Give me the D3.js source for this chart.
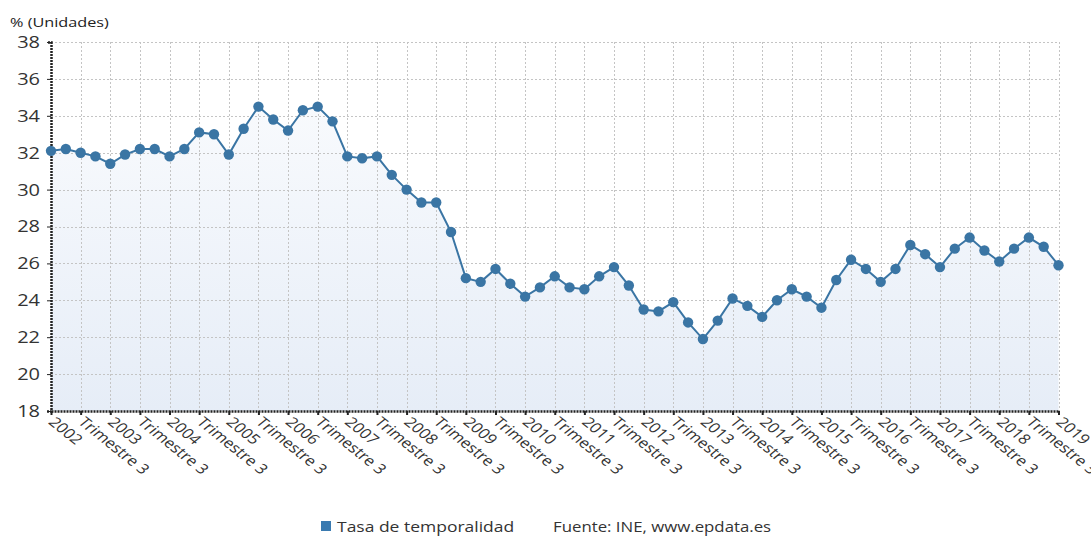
<!DOCTYPE html>
<html><head><meta charset="utf-8">
<script src="https://cdn.jsdelivr.net/npm/d3@7"></script>
<style>
body{margin:0;background:#fff;}
text{font-family:"Open Sans","Noto Sans",sans-serif;}
</style></head>
<body><svg id="c" width="1091" height="537"></svg>
<script>
const years = [2002,2003,2004,2005,2006,2007,2008,2009,2010,2011,2012,2013,2014,2015,2016,2017,2018,2019];
const values = [
  32.1,32.2,32.0,31.8, 31.4,31.9,32.2,32.2, 31.8,32.2,33.1,33.0, 31.9,33.3,34.5,33.8,
  33.2,34.3,34.5,33.7, 31.8,31.7,31.8,30.8, 30.0,29.3,29.3,27.7, 25.2,25.0,25.7,24.9,
  24.2,24.7,25.3,24.7, 24.6,25.3,25.8,24.8, 23.5,23.4,23.9,22.8, 21.9,22.9,24.1,23.7,
  23.1,24.0,24.6,24.2, 23.6,25.1,26.2,25.7, 25.0,25.7,27.0,26.5, 25.8,26.8,27.4,26.7,
  26.1,26.8,27.4,26.9, 25.9
];
const yTicks = [18,20,22,24,26,28,30,32,34,36,38];
const yTitle = "% (Unidades)";
const seriesName = "Tasa de temporalidad";
const source = "Fuente: INE, www.epdata.es";

const SX = 1.25; // horizontal text stretch seen in the reference
const svg = d3.select("#c");
const L = 51, R = 1058.5, T = 42, B = 411;
const x = d3.scaleLinear().domain([0, values.length - 1]).range([L, R]);
const y = d3.scaleLinear().domain([18, 38]).range([B, T]);

const tickIdx = d3.range(0, values.length, 2);
const tickLabel = i => (i % 4 === 0) ? String(years[i / 4]) : "Trimestre 3";

const defs = svg.append("defs");
const g = defs.append("linearGradient").attr("id","ag").attr("x1",0).attr("y1",0).attr("x2",0).attr("y2",1);
g.append("stop").attr("offset","0%").attr("stop-color","#f8fafd");
g.append("stop").attr("offset","100%").attr("stop-color","#e6edf7");

svg.append("path").datum(values)
  .attr("fill","url(#ag)")
  .attr("d", d3.area().x((d,i)=>x(i)).y0(B).y1(d=>y(d)));

const grid = svg.append("g").attr("stroke","#c4c4c4").attr("stroke-width",1).attr("stroke-dasharray","2,2");
grid.selectAll("line.h").data(yTicks.filter(t=>t>18)).join("line")
  .attr("x1",L).attr("x2",R+0.5).attr("y1",d=>Math.round(y(d))+0.5).attr("y2",d=>Math.round(y(d))+0.5);
grid.selectAll("line.v").data(tickIdx.filter(i=>i>0)).join("line")
  .attr("x1",d=>Math.round(x(d))+0.5).attr("x2",d=>Math.round(x(d))+0.5).attr("y1",T).attr("y2",B);

const yAxis = svg.append("g").attr("transform",`translate(${L},0)`)
  .call(d3.axisLeft(y).tickValues(yTicks).tickSize(4));
yAxis.select(".domain").attr("stroke","#222").attr("stroke-width",2.5).attr("stroke-dasharray","2,1");
yAxis.selectAll(".tick line").attr("stroke","#222");
yAxis.selectAll(".tick text").attr("fill","#333")
  .style("font-size","16px").style("font-family","'Open Sans',sans-serif")
  .attr("x", -8.8).attr("dy","0.34em")
  .attr("transform",`scale(${SX},1)`);

const xAxis = svg.append("g").attr("transform",`translate(0,${B})`)
  .call(d3.axisBottom(x).tickValues(tickIdx).tickFormat(tickLabel).tickSize(4).tickSizeOuter(0));
xAxis.select(".domain").attr("stroke","#222").attr("stroke-width",2.5).attr("stroke-dasharray","2,1");
xAxis.selectAll(".tick line").attr("stroke","#222").attr("stroke-width",2);
xAxis.selectAll(".tick text")
  .attr("fill","#333").style("font-size","13.8px").style("font-family","'Open Sans',sans-serif")
  .attr("text-anchor","start").attr("y",0).attr("dy",0)
  .attr("transform",`translate(-4,12) scale(${SX},1) rotate(45)`);

svg.append("path").datum(values)
  .attr("fill","none").attr("stroke","#3a75a4").attr("stroke-width",2)
  .attr("d", d3.line().x((d,i)=>x(i)).y(d=>y(d)));
svg.append("g").selectAll("circle").data(values).join("circle")
  .attr("cx",(d,i)=>x(i)).attr("cy",d=>y(d)).attr("r",5.2).attr("fill","#3a75a4");

svg.append("text").attr("transform",`translate(10,27) scale(${SX},1)`).attr("fill","#222")
  .style("font-size","13px").text(yTitle);

svg.append("rect").attr("x",321).attr("y",521).attr("width",10).attr("height",10).attr("fill","#3a7ab0");
svg.append("text").attr("transform",`translate(337,532) scale(${SX},1)`).attr("fill","#333").style("font-size","14px").text(seriesName);
svg.append("text").attr("transform",`translate(553,532) scale(1.2,1)`).attr("fill","#333").style("font-size","14px").text(source);
</script></body></html>
